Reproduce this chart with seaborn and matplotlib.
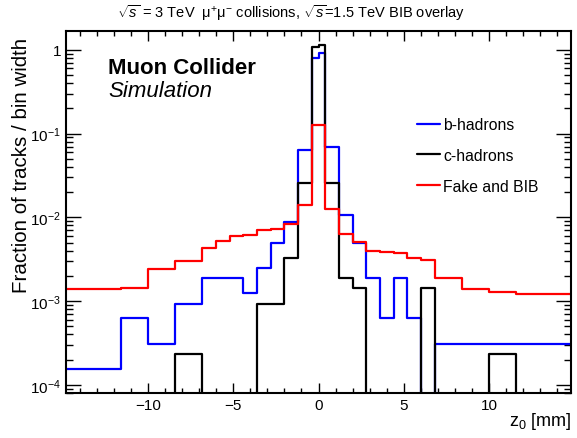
import numpy as np
import pandas as pd
import matplotlib
matplotlib.use("Agg")
import matplotlib.pyplot as plt
import matplotlib.ticker as mticker
import seaborn as sns

# bin edges of the z0 histogram [mm] (variable width)
edges = [-14.8, -11.6, -10.0, -8.4, -6.8, -6.0, -5.2, -4.4, -3.6, -2.8, -2.0,
         -1.2, -0.4, 0.0, 0.4, 1.2, 2.0, 2.8, 3.6, 4.4, 5.2, 6.0, 6.8, 8.4,
         10.0, 11.6, 14.8]

# fraction of tracks / bin width, one value per bin
b_hadrons = [1.56e-4, 6.2e-4, 3.1e-4, 9.2e-4, 1.86e-3, 1.86e-3, 1.86e-3,
             1.23e-3, 2.47e-3, 5.0e-3, 8.7e-3, 6.4e-2, 0.81, 0.93, 7.0e-2,
             1.07e-2, 5.0e-3, 1.86e-3, 6.3e-4, 1.86e-3, 6.3e-4, 0.0,
             3.1e-4, 3.1e-4, 3.1e-4, 3.1e-4]
c_hadrons = [0.0, 0.0, 0.0, 2.3e-4, 0.0, 0.0, 0.0, 0.0, 9.2e-4, 9.2e-4,
             3.27e-3, 2.55e-2, 1.07, 1.15, 2.55e-2, 1.87e-3, 1.42e-3, 0.0,
             0.0, 0.0, 0.0, 1.42e-3, 0.0, 0.0, 2.33e-4, 0.0]
fake_bib = [1.38e-3, 1.45e-3, 2.40e-3, 2.99e-3, 4.31e-3, 5.22e-3, 5.94e-3,
            6.1e-3, 7.0e-3, 7.27e-3, 8.3e-3, 1.41e-2, 0.125, 0.127, 1.25e-2,
            6.3e-3, 5.1e-3, 3.97e-3, 3.90e-3, 3.72e-3, 3.31e-3, 3.10e-3,
            1.87e-3, 1.38e-3, 1.28e-3, 1.20e-3]

labels = ["b-hadrons", "c-hadrons", "Fake and BIB"]
colors = ["blue", "black", "red"]

# long-form table: bin centres weighted by value * width, seaborn divides by width again
e = np.array(edges)
centres = 0.5 * (e[1:] + e[:-1])
widths = np.diff(e)
rows = []
for lab, vals in zip(labels, [b_hadrons, c_hadrons, fake_bib]):
    rows.append(pd.DataFrame({"z0": centres, "w": np.array(vals) * widths, "sample": lab}))
df = pd.concat(rows, ignore_index=True)

sns.set_style("ticks", {"axes.edgecolor": "black", "text.color": "black",
                        "axes.labelcolor": "black", "xtick.color": "black",
                        "ytick.color": "black"})
plt.rcParams["font.family"] = ["Liberation Sans", "DejaVu Sans"]
plt.rcParams["mathtext.fontset"] = "custom"
plt.rcParams["mathtext.rm"] = "Liberation Sans"
plt.rcParams["mathtext.it"] = "Liberation Sans:italic"
plt.rcParams["mathtext.bf"] = "Liberation Sans:bold"

fig = plt.figure(figsize=(5.77, 4.39), dpi=100)
ax = fig.add_axes([0.1144, 0.1018, 0.8752, 0.8253])

for lab, col in zip(labels, colors):
    sns.histplot(data=df[df["sample"] == lab], x="z0", weights="w", bins=edges,
                 stat="frequency", element="step", fill=False, color=col,
                 linewidth=1.6, label=lab, ax=ax)

ax.set_yscale("log")
ax.set_xlim(-14.8, 14.8)
ax.set_ylim(7.9e-5, 1.68)

# ROOT-like ticks
ax.xaxis.set_major_locator(mticker.MultipleLocator(5))
ax.xaxis.set_minor_locator(mticker.MultipleLocator(1))
ax.yaxis.set_major_locator(mticker.LogLocator(base=10, numticks=10))
ax.yaxis.set_minor_locator(mticker.LogLocator(base=10, subs=np.arange(2, 10), numticks=10))
ax.yaxis.set_minor_formatter(mticker.NullFormatter())
ax.yaxis.set_major_formatter(mticker.FuncFormatter(
    lambda v, p: "1" if abs(v - 1) < 1e-9 else r"$10^{%d}$" % round(np.log10(v))))
ax.tick_params(which="both", direction="in", top=True, right=True, width=1,
               labelsize=11, colors="black")
ax.tick_params(axis="x", which="major", length=7)
ax.tick_params(axis="x", which="minor", length=3.5)
ax.tick_params(axis="y", which="major", length=10.5)
ax.tick_params(axis="y", which="minor", length=5)
for s in ax.spines.values():
    s.set_linewidth(1.5)
    s.set_color("black")

ax.set_xlabel(r"z$_{0}$ [mm]", fontsize=13, loc="right")
ax.xaxis.set_label_coords(1.0, -0.045)
ax.set_ylabel("Fraction of tracks / bin width", fontsize=14.8, loc="top")
ax.yaxis.set_label_coords(-0.07, 0.985)

ax.text(0.083, 0.884, "Muon Collider", transform=ax.transAxes, fontsize=16,
        fontweight="bold", va="baseline")
ax.text(0.083, 0.821, "Simulation", transform=ax.transAxes, fontsize=16,
        fontstyle="italic", va="baseline")

ax.legend(loc="upper left", bbox_to_anchor=(0.695, 0.762), frameon=False,
          fontsize=11.3, handlelength=1.47, handletextpad=0.2, labelspacing=1.0,
          borderpad=0, borderaxespad=0)

fig.text(0.203, 0.970, r"$\sqrt{s}$ = 3 TeV  μ$^{+}$μ$^{-}$ collisions, $\sqrt{s}$=1.5 TeV BIB overlay",
         fontsize=10.5, va="center", ha="left")

fig.savefig("out.png", dpi=100)
